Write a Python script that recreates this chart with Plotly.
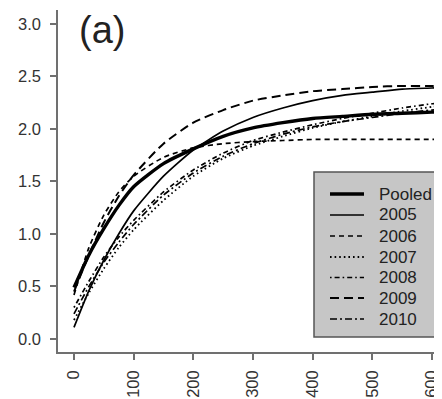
import plotly.graph_objects as go

age = [0, 25, 50, 75, 100, 150, 200, 250, 300, 350, 400, 450, 500, 550, 600, 650]

pooled = [0.49, 0.80, 1.05, 1.27, 1.45, 1.67, 1.81, 1.93, 2.01, 2.06, 2.10, 2.12, 2.14, 2.15, 2.16, 2.17]
y2005 = [0.11, 0.46, 0.75, 1.00, 1.22, 1.55, 1.80, 1.98, 2.11, 2.20, 2.27, 2.32, 2.35, 2.38, 2.39, 2.40]
y2006 = [0.42, 0.87, 1.18, 1.40, 1.55, 1.73, 1.82, 1.86, 1.88, 1.89, 1.90, 1.90, 1.90, 1.90, 1.90, 1.90]
y2007 = [0.18, 0.44, 0.67, 0.87, 1.04, 1.32, 1.55, 1.72, 1.84, 1.93, 2.01, 2.07, 2.12, 2.17, 2.21, 2.24]
y2008 = [0.30, 0.55, 0.78, 0.97, 1.13, 1.40, 1.61, 1.77, 1.89, 1.97, 2.04, 2.10, 2.15, 2.20, 2.24, 2.27]
y2009 = [0.45, 0.80, 1.11, 1.36, 1.56, 1.86, 2.06, 2.18, 2.27, 2.32, 2.36, 2.38, 2.40, 2.41, 2.41, 2.42]
y2010 = [0.24, 0.50, 0.73, 0.92, 1.09, 1.37, 1.58, 1.74, 1.86, 1.95, 2.02, 2.07, 2.11, 2.15, 2.18, 2.20]

series_names = ["Pooled", "2005", "2006", "2007", "2008", "2009", "2010"]
series_values = [pooled, y2005, y2006, y2007, y2008, y2009, y2010]
series_dash = ["solid", "solid", "5px,4px", "1.6px,3px", "1.6px,3px,5px,3px", "9px,5px", "7px,3px,2px,3px"]
series_width = [3.4, 1.7, 1.7, 1.8, 1.7, 2.0, 1.7]

x_ticks = [0, 100, 200, 300, 400, 500, 600]
y_ticks = [0.0, 0.5, 1.0, 1.5, 2.0, 2.5, 3.0]

# plot-area pixel geometry (as seen on screen) used to place the legend box
PX0, PX1, PY0, PY1 = 58.0, 442.0, 10.0, 352.0


def px(X):
    return (X - PX0) / (PX1 - PX0)


def py(Y):
    return (PY1 - Y) / (PY1 - PY0)


fig = go.Figure()
for name, vals, dash, w in zip(series_names, series_values, series_dash, series_width):
    fig.add_trace(go.Scatter(
        x=age, y=vals, mode="lines", name=name, showlegend=False,
        line=dict(color="black", width=w, dash=dash, shape="spline", smoothing=0.6),
    ))

shapes = [dict(
    type="rect", xref="paper", yref="paper",
    x0=px(314), x1=1.05, y0=py(337), y1=py(172),
    fillcolor="#c6c6c6", line=dict(color="#555555", width=1.5), layer="above",
)]
annotations = [dict(
    x=5, y=2.94, xref="x", yref="y", text="(a)", showarrow=False,
    xanchor="left", yanchor="middle", font=dict(size=38, color="#222222"),
)]
row_y = [194, 215, 236, 257, 277.5, 298, 319]
for name, dash, w, ry in zip(series_names, series_dash, series_width, row_y):
    shapes.append(dict(
        type="line", xref="paper", yref="paper",
        x0=px(330), x1=px(364), y0=py(ry), y1=py(ry),
        line=dict(color="black", width=w, dash=dash), layer="above",
    ))
    annotations.append(dict(
        x=px(377), y=py(ry), xref="paper", yref="paper", text=name, showarrow=False,
        xanchor="left", yanchor="middle", font=dict(size=17, color="#222222"),
    ))

axis_col = "#707070"
font_col = "#333333"
# page body has an 8px margin, so the figure is offset by 8px on screen
fig.update_layout(
    width=442, height=399,
    margin=dict(l=50, r=8, t=2, b=55, autoexpand=False),
    paper_bgcolor="white", plot_bgcolor="white",
    font=dict(family="Liberation Sans, Arial, sans-serif", color=font_col, size=16),
    showlegend=False,
    shapes=shapes,
    annotations=annotations,
    xaxis=dict(
        range=[-26.8, 616.8], tickvals=x_ticks, ticktext=[str(v) for v in x_ticks],
        tickangle=-90, ticks="outside", ticklen=6, tickcolor=axis_col, tickwidth=1.5,
        showline=True, linecolor=axis_col, linewidth=1.5, mirror=False,
        showgrid=False, zeroline=False, tickfont=dict(size=16.5, color=font_col),
        automargin=False, ticklabelstandoff=4,
    ),
    yaxis=dict(
        range=[-0.124, 3.133], tickvals=y_ticks, ticktext=[f"{v:.1f}" for v in y_ticks],
        ticks="outside", ticklen=6, tickcolor=axis_col, tickwidth=1.5,
        showline=True, linecolor=axis_col, linewidth=1.5, mirror=False,
        showgrid=False, zeroline=False, tickfont=dict(size=16.5, color=font_col),
        ticklabelstandoff=6, automargin=False,
    ),
)

fig.write_html("out.html")
